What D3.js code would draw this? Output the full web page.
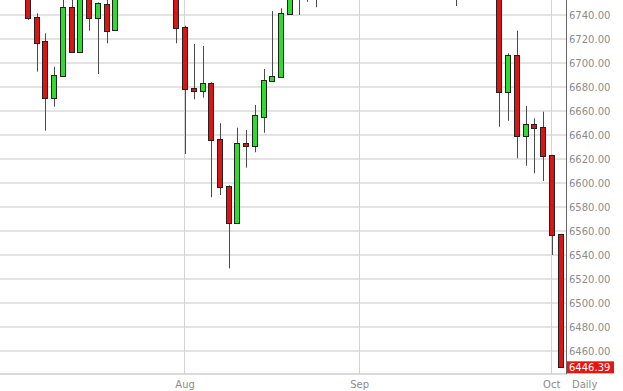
<!DOCTYPE html>
<html>
<head>
<meta charset="utf-8">
<script src="https://cdn.jsdelivr.net/npm/d3@7/dist/d3.min.js"></script>
<style>
  body { margin: 0; background: #fff; }
  svg { display: block; font-family: "DejaVu Sans", Verdana, sans-serif; }
</style>
</head>
<body>
<div id="chart"></div>
<script>
// daily trading days shown (Jul 7 - Oct 2, 2014)
const dates = [
  "2014-07-07","2014-07-08","2014-07-09","2014-07-10","2014-07-11",
  "2014-07-14","2014-07-15","2014-07-16","2014-07-17","2014-07-18",
  "2014-07-21","2014-07-22","2014-07-23","2014-07-24","2014-07-25",
  "2014-07-28","2014-07-29","2014-07-30","2014-07-31",
  "2014-08-01","2014-08-04","2014-08-05","2014-08-06","2014-08-07","2014-08-08",
  "2014-08-11","2014-08-12","2014-08-13","2014-08-14","2014-08-15",
  "2014-08-18","2014-08-19","2014-08-20","2014-08-21","2014-08-22",
  "2014-08-26","2014-08-27","2014-08-28","2014-08-29",
  "2014-09-01","2014-09-02","2014-09-03","2014-09-04","2014-09-05",
  "2014-09-08","2014-09-09","2014-09-10","2014-09-11","2014-09-12",
  "2014-09-15","2014-09-16","2014-09-17","2014-09-18","2014-09-19",
  "2014-09-22","2014-09-23","2014-09-24","2014-09-25","2014-09-26",
  "2014-09-29","2014-09-30",
  "2014-10-01","2014-10-02"
];

const opens = [
  6866, 6823, 6738.6, 6718.6, 6670.6,
  6689.2, 6746.9, 6709.4, 6784, 6737.2,
  6749.2, 6727.5, 6795, 6798, 6821,
  6791, 6788, 6807, 6773,
  6730.3, 6679.4, 6676.4, 6683.1, 6636.4, 6597.5,
  6566.4, 6633.3, 6630.8, 6655.3, 6684.6,
  6688.1, 6741, 6779, 6755, 6777,
  6775, 6822, 6830, 6805,
  6819, 6825, 6829, 6873, 6877,
  6855, 6834, 6829, 6830, 6799,
  6806, 6804, 6792, 6780, 6819,
  6837, 6773.6, 6675.6, 6706.7, 6639.2,
  6649.2, 6646.4,
  6623.1, 6557.5
];

const highs = [
  6866, 6823, 6741.4, 6724.7, 6696.9,
  6760, 6769, 6790, 6786, 6750.5,
  6755, 6800, 6810, 6829, 6822,
  6807, 6812, 6815, 6775,
  6731, 6715.8, 6714.2, 6684, 6649.8, 6598,
  6646.1, 6644.2, 6665, 6695, 6743.3,
  6745.6, 6782, 6786, 6780, 6790,
  6830, 6836, 6832, 6826,
  6836, 6838, 6877, 6904, 6878,
  6861, 6840, 6836, 6835, 6812,
  6822, 6808, 6796, 6828, 6863,
  6840, 6774, 6708.1, 6726.9, 6664.2,
  6653.9, 6659.4,
  6623.5, 6557.6
];

const lows = [
  6819, 6736, 6692.8, 6643.6, 6663.6,
  6689, 6709, 6709, 6726.9, 6690.8,
  6716.4, 6727, 6785, 6790, 6781,
  6775, 6786, 6770, 6716.4,
  6624.2, 6669.8, 6671.1, 6588.1, 6590, 6528.9,
  6566, 6612.8, 6625.6, 6641.9, 6684.6,
  6688, 6741, 6740, 6751, 6746.4,
  6775, 6815, 6796, 6800,
  6815, 6810, 6828, 6866, 6840,
  6826, 6825, 6815, 6793, 6795,
  6795, 6747.5, 6770, 6778, 6819,
  6767, 6646.9, 6651.9, 6620.6, 6614.4,
  6608.1, 6601.7,
  6540, 6446
];

const closes = [
  6823, 6737.2, 6717, 6670.6, 6690.3,
  6746.9, 6709.4, 6784, 6737.2, 6749.8,
  6726.9, 6795, 6798, 6821, 6791,
  6788, 6807, 6773, 6729.4,
  6678.1, 6676.4, 6683.1, 6635.8, 6596.4, 6566.4,
  6633.1, 6631.1, 6656.7, 6685.8, 6689.2,
  6741.4, 6779, 6755, 6777, 6775,
  6822, 6830, 6805, 6819,
  6825, 6829, 6873, 6877, 6855,
  6834, 6829, 6830, 6799, 6806,
  6804, 6792, 6780, 6819, 6837,
  6773.6, 6675.6, 6706.7, 6639.2, 6649.2,
  6645.6, 6622.1,
  6556.7, 6446.39
];

// axis labels
const yTicks = [6460, 6480, 6500, 6520, 6540, 6560, 6580, 6600, 6620, 6640, 6660, 6680, 6700, 6720, 6740];
const monthStarts = ["2014-08-01", "2014-09-01", "2014-10-01"];
const monthLabels = ["Aug", "Sep", "Oct"];
const lastLabel = "6446.39";
const periodLabel = "Daily";

const data = dates.map((d, i) => ({
  date: d, open: opens[i], high: highs[i], low: lows[i], close: closes[i]
}));

//setting dimensions
const width = 623, height = 391;
const plotRight = 566.5, plotBottom = 374;

const svg = d3.select("#chart")
  .append("svg")
  .attr("width", width)
  .attr("height", height);

//scales
const x = d3.scalePoint()
  .domain(dates)
  .range([19.2, 560.5]);

const y = d3.scaleLinear()
  .domain([6460, 6740])
  .range([351, 15]);

//horizontal grid
svg.append("g")
  .selectAll("line")
  .data(yTicks)
  .join("line")
  .attr("x1", 0)
  .attr("x2", plotRight)
  .attr("y1", d => y(d))
  .attr("y2", d => y(d))
  .attr("stroke", "#e3e3e3")
  .attr("stroke-width", 2);

// bottom edge of plot
svg.append("line")
  .attr("x1", 0).attr("x2", plotRight)
  .attr("y1", plotBottom).attr("y2", plotBottom)
  .attr("stroke", "#dadada")
  .attr("stroke-width", 2);

//month separators
const monthX = d => Math.round(x(d) - 1) + 0.5;
svg.append("g")
  .selectAll("line")
  .data(monthStarts)
  .join("line")
  .attr("x1", monthX)
  .attr("x2", monthX)
  .attr("y1", 0)
  .attr("y2", plotBottom)
  .attr("stroke", "#d4d4d4")
  .attr("stroke-width", 1);

svg.append("g")
  .selectAll("text")
  .data(monthStarts)
  .join("text")
  .attr("x", d => x(d))
  .attr("y", 388)
  .attr("text-anchor", "middle")
  .attr("font-size", 10)
  .attr("fill", "#8c8c8c")
  .text((d, i) => monthLabels[i]);

//candles
svg.append("clipPath")
  .attr("id", "plot-clip")
  .append("rect")
  .attr("x", 0).attr("y", 0)
  .attr("width", 566).attr("height", plotBottom);

const candles = svg.append("g")
  .attr("clip-path", "url(#plot-clip)")
  .selectAll("g")
  .data(data)
  .join("g");

candles.append("line")
  .attr("x1", d => Math.round(x(d.date)) + 0.5)
  .attr("x2", d => Math.round(x(d.date)) + 0.5)
  .attr("y1", d => y(d.high))
  .attr("y2", d => y(d.low))
  .attr("stroke", "#4a4a4a")
  .attr("stroke-width", 1);

candles.append("rect")
  .attr("x", d => Math.round(x(d.date)) - 2.5)
  .attr("width", 5)
  .attr("y", d => Math.round(y(Math.max(d.open, d.close))) + 0.5)
  .attr("height", d => Math.max(2, Math.round(y(Math.min(d.open, d.close))) - Math.round(y(Math.max(d.open, d.close)))))
  .attr("fill", d => d.close >= d.open ? "#2edc2e" : "#dc1414")
  .attr("stroke", "#222")
  .attr("stroke-width", 1);

//right axis
svg.append("line")
  .attr("x1", plotRight).attr("x2", plotRight)
  .attr("y1", 0).attr("y2", plotBottom)
  .attr("stroke", "#666")
  .attr("stroke-width", 1);

svg.append("g")
  .selectAll("text")
  .data(yTicks)
  .join("text")
  .attr("x", 569)
  .attr("y", d => y(d))
  .attr("dy", "0.36em")
  .attr("font-size", 10)
  .attr("fill", "#8c8c8c")
  .text(d => d3.format(".2f")(d));

// last price marker
const last = data[data.length - 1];
svg.append("rect")
  .attr("x", 567)
  .attr("y", y(last.close) - 6)
  .attr("width", 47)
  .attr("height", 12)
  .attr("fill", "#e8140f");

svg.append("text")
  .attr("x", 569)
  .attr("y", y(last.close))
  .attr("dy", "0.36em")
  .attr("font-size", 10)
  .attr("fill", "#fff")
  .text(lastLabel);

svg.append("text")
  .attr("x", 572)
  .attr("y", 388)
  .attr("font-size", 10)
  .attr("fill", "#8c8c8c")
  .text(periodLabel);
</script>
</body>
</html>
